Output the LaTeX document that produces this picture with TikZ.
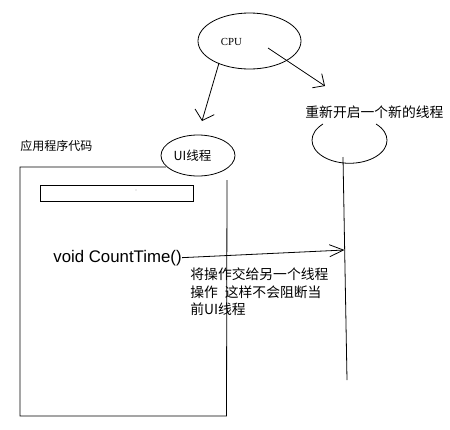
\documentclass[tikz,border=0pt]{standalone}
\usepackage{fontspec}
\newfontfamily\cjk{Noto Sans CJK SC}
\newfontfamily\lsans{Liberation Sans}
\newfontfamily\lserif{Liberation Serif}
\usetikzlibrary{shapes.geometric,arrows.meta}
\begin{document}
\begin{tikzpicture}[x=1pt,y=-1pt, line width=0.8pt,
  every node/.style={inner sep=0pt},
  oval/.style={draw, ellipse, inner sep=0pt},
  zh/.style={font=\cjk\fontsize{13.8}{16}\selectfont, anchor=base west},
  barbA/.style={-{Straight Barb[length=9pt,width=20pt]}},
  barbB/.style={-{Straight Barb[length=9pt,width=17pt]}},
  barbC/.style={-{Straight Barb[length=14pt,width=12pt]}}]
\fill[white] (0,0) rectangle (450,429);
\useasboundingbox (0,0) rectangle (450,429);
% CPU
\node[oval, minimum width=103pt, minimum height=56pt] (cpu) at (249.5,41) {};
\node[font=\lserif\fontsize{10.8}{12}\selectfont, anchor=base] (cputxt) at (231.5,45.6) {CPU};
% UI thread
\node[oval, minimum width=74pt, minimum height=41pt] (ui) at (198,155.5) {};
\node[font=\cjk\fontsize{12.5}{14}\selectfont, anchor=base] (uitxt) at (192.5,160.7) {UI线程};
% arrows from CPU
\coordinate (a1s) at (219,63);
\coordinate (a1e) at (202,121);
\draw[barbA] (a1s) -- (a1e);
\coordinate (a2s) at (268,48);
\coordinate (a2e) at (325,86);
\draw[barbB] (a2s) -- (a2e);
% new thread
\node[zh] (newt) at (305,117.2) {重新开启一个新的线程};
\coordinate (arcL) at (323,124);
\draw (arcL) arc[start angle=135, end angle=405, x radius=37.5pt, y radius=23pt];
\coordinate (t1) at (343,157);
\coordinate (t2) at (347,380);
\draw (t1) -- (t2);
% application code box
\node[font=\cjk\fontsize{12}{14}\selectfont, anchor=base west] (app) at (20,150.6) {应用程序代码};
\coordinate (r1) at (166,167);
\coordinate (r2) at (20,167);
\coordinate (r3) at (20,416);
\coordinate (r4) at (226.5,416);
\coordinate (r5) at (227,180);
\draw (r1) -- (r2) -- (r3) -- (r4) -- (r5);
\node[draw, minimum width=153pt, minimum height=16pt, anchor=north west] (bar) at (40,185) {};
\fill[gray!60] (136,190) circle[radius=0.6pt];
% CountTime
\node[font=\lsans\fontsize{16.8}{18}\selectfont, anchor=base west] (ct) at (53,262) {void CountTime()};
\coordinate (hit) at (344.5,250);
\draw[barbC] (ct.east) -- (hit);
\node[zh] (l1) at (190,279.2) {将操作交给另一个线程};
\node[zh] (l2) at (190,297.2) {操作\hspace{0.5em}这样不会阻断当};
\node[zh] (l3) at (190,314.2) {前UI线程};
\end{tikzpicture}
\end{document}
